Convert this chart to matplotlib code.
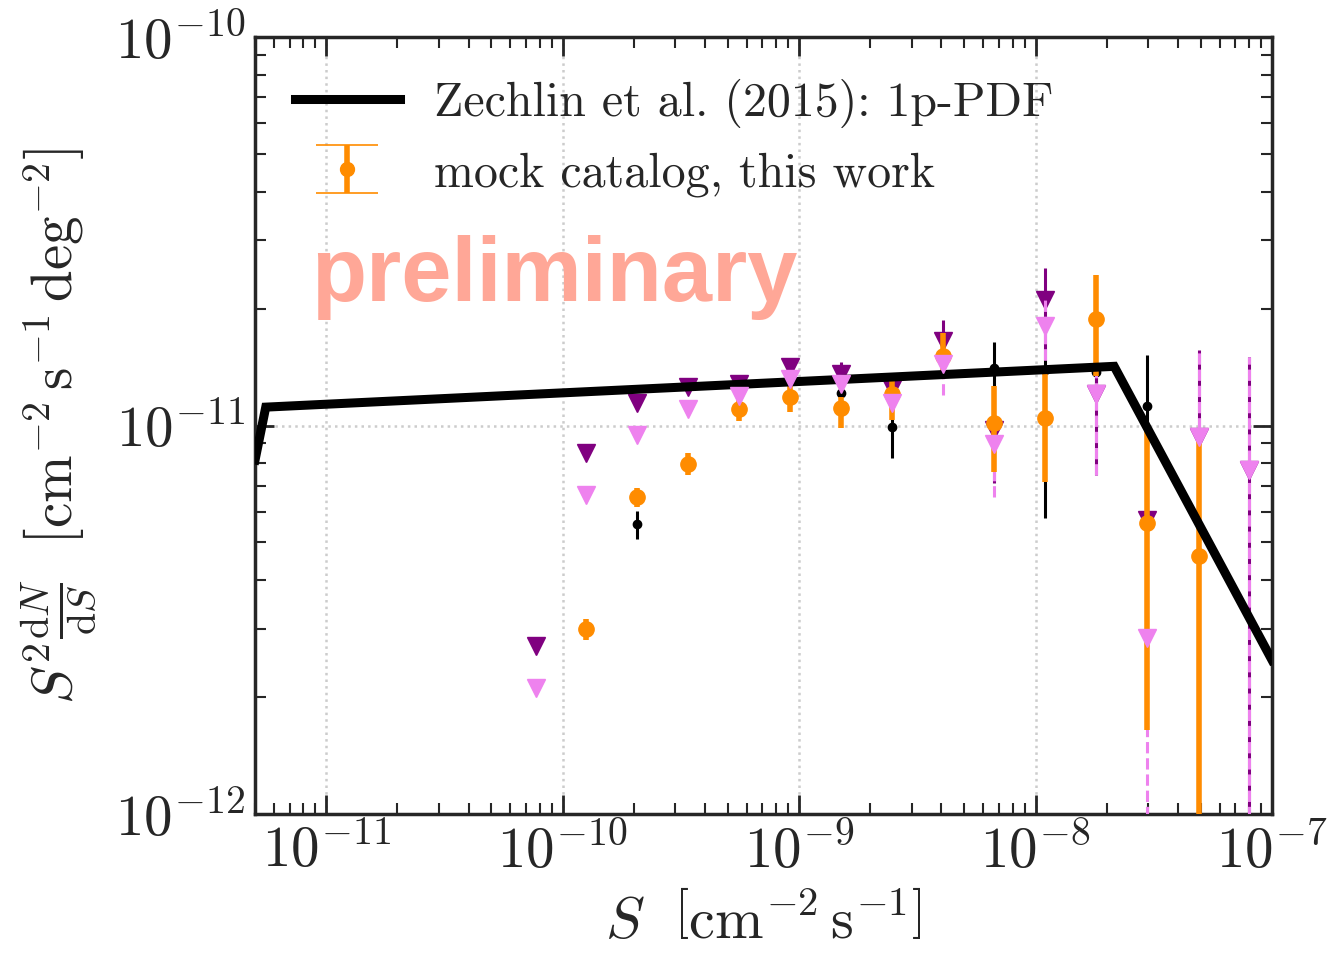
import numpy as np
import matplotlib.pyplot as plt
from matplotlib.ticker import FuncFormatter, LogLocator, NullFormatter

plt.rcParams['mathtext.fontset'] = 'cm'
plt.rcParams['font.family'] = 'serif'
plt.rcParams['font.serif'] = ['cmr10', 'DejaVu Serif']
plt.rcParams['axes.unicode_minus'] = False
plt.rcParams['axes.formatter.use_mathtext'] = True

INK = '#262626'

# flux bin centres [cm^-2 s^-1]
S_bins = np.array([7.7e-11, 1.26e-10, 2.07e-10, 3.38e-10, 5.56e-10, 9.16e-10,
                   1.51e-9, 2.48e-9, 4.05e-9, 6.66e-9, 1.10e-8, 1.81e-8,
                   2.97e-8, 4.90e-8, 7.98e-8])

# Zechlin et al. (2015) broken power law, S^2 dN/dS [cm^-2 s^-1 deg^-2]
model_S = np.array([5.0e-12, 5.55e-12, 2.15e-8, 1.0e-7])
model_val = np.array([8.15e-12, 1.115e-11, 1.42e-11, 2.49e-12])

# mock catalog (orange), in units of 1e-12
mock_idx = np.arange(1, 14)
mock_val = np.array([2.99, 6.55, 7.96, 11.03, 11.84, 11.09, 12.05, 15.09,
                     10.15, 10.45, 18.79, 5.61, 4.61])
mock_lo = np.array([2.81, 6.17, 7.46, 10.27, 10.83, 9.85, 10.33, 13.73,
                    7.59, 7.16, 13.41, 1.645, 0.5])
mock_hi = np.array([3.18, 6.90, 8.50, 11.77, 12.86, 11.84, 13.65, 17.30,
                    12.64, 13.65, 24.4, 9.68, 9.34])

# detected sources (black)
det_idx = np.array([2, 6, 7, 9, 10, 11, 12])
det_val = np.array([5.58, 12.13, 9.91, 14.06, 13.90, 13.73, 11.22])
det_lo = np.array([5.10, 11.63, 8.25, 8.25, 5.78, 11.98, 9.0])
det_hi = np.array([6.02, 12.71, 11.63, 16.40, 14.74, 15.64, 15.18])

# upper limits, purple
ul1_val = np.array([2.71, 8.50, 11.43, 12.56, 12.79, 14.14, 13.57, 12.42,
                    16.50, 9.73, 21.04, 12.05, 5.70, 9.34, 7.68])
ul1_lo = np.array([2.71, 8.50, 11.43, 12.56, 12.79, 14.14, 13.57, 12.42,
                   16.50, 7.11, 14.74, 7.46, 5.70, 0.5, 0.5])
ul1_hi = np.array([2.71, 8.50, 11.43, 12.56, 12.79, 14.91, 14.56, 12.42,
                   18.69, 9.73, 25.43, 13.73, 5.70, 15.64, 15.00])

# upper limits, violet
ul2_val = np.array([2.11, 6.62, 9.45, 11.03, 11.91, 13.17, 12.79, 11.43,
                    14.39, 8.96, 18.04, 12.05, 2.84, 9.34, 7.68])
ul2_lo = np.array([2.11, 6.62, 9.45, 11.03, 11.91, 13.17, 12.79, 11.43,
                   11.98, 6.55, 14.74, 7.46, 0.5, 0.5, 0.5])
ul2_hi = np.array([2.11, 6.62, 9.45, 11.03, 11.91, 13.17, 12.79, 11.43,
                   14.39, 8.96, 21.04, 13.73, 9.68, 15.64, 15.00])

unit = 1e-12


def err(val, lo, hi):
    return [(val - lo) * unit, (hi - val) * unit]


fig = plt.figure(figsize=(13.36, 9.63), dpi=100)
ax = fig.add_axes([0.1909, 0.1547, 0.7612, 0.8069])
ax.set_xscale('log')
ax.set_yscale('log')

ax.errorbar(S_bins[det_idx], det_val * unit, yerr=err(det_val, det_lo, det_hi),
            fmt='o', color='black', ms=6, elinewidth=2.2, capsize=0, zorder=2)

ax.errorbar(S_bins, ul1_val * unit, yerr=err(ul1_val, ul1_lo, ul1_hi),
            fmt='v', color='purple', ms=13, elinewidth=2.2, capsize=0, zorder=3)

# violet bars sit under the orange ones, violet markers on top of everything
ul2 = ax.errorbar(S_bins, ul2_val * unit, yerr=err(ul2_val, ul2_lo, ul2_hi),
                  fmt='v', color='violet', ms=13, elinewidth=2.2, capsize=0, zorder=3.5)
ul2[2][0].set_linestyle('--')
ul2[0].set_zorder(6)

ax.errorbar(S_bins[mock_idx], mock_val * unit, yerr=err(mock_val, mock_lo, mock_hi),
            fmt='o', color='darkorange', ms=11, elinewidth=4, capsize=0, zorder=4)

model, = ax.plot(model_S, model_val, color='black', lw=6.5, zorder=5,
                 solid_joinstyle='miter')

# legend entry for the mock catalog with caps
proxy = ax.errorbar([np.nan], [np.nan], yerr=[[np.nan], [np.nan]], fmt='o',
                    color='darkorange', ms=10, elinewidth=4, capsize=22, capthick=1.2)

ax.set_xlim(5e-12, 1e-7)
ax.set_ylim(1e-12, 1e-10)

ax.text(0.055, 0.66, 'preliminary', transform=ax.transAxes, fontsize=65,
        fontweight='bold', family='Liberation Sans', color='#FFA797', zorder=1)

leg = ax.legend([model, proxy], ['Zechlin et al. (2015): 1p-PDF', 'mock catalog, this work'],
                loc='upper left', bbox_to_anchor=(0.02, 0.971), frameon=False,
                fontsize=34.5, handlelength=2.2, handletextpad=0.7, labelspacing=0.5,
                borderaxespad=0.0)
for t in leg.get_texts():
    t.set_color(INK)

ax.xaxis.set_major_locator(LogLocator(base=10, numticks=20))
ax.xaxis.set_minor_locator(LogLocator(base=10, subs=np.arange(2, 10), numticks=20))
ax.yaxis.set_major_locator(LogLocator(base=10, numticks=20))
ax.yaxis.set_minor_locator(LogLocator(base=10, subs=np.arange(2, 10), numticks=20))
fmt = FuncFormatter(lambda v, p: r'$10^{%d}$' % int(round(np.log10(v))))
ax.xaxis.set_major_formatter(fmt)
ax.yaxis.set_major_formatter(fmt)
ax.xaxis.set_minor_formatter(NullFormatter())
ax.yaxis.set_minor_formatter(NullFormatter())

ax.tick_params(which='both', direction='in', top=True, right=True, colors=INK)
ax.tick_params(which='major', length=14, width=2, labelsize=41, pad=7)
ax.tick_params(which='minor', length=8, width=1.5)
for sp in ax.spines.values():
    sp.set_linewidth(2.5)
    sp.set_color(INK)

ax.grid(True, which='major', ls=':', color='#cccccc', lw=1.8, zorder=0)
ax.set_axisbelow(True)

ax.set_xlabel(r'$S\ \ \left[\mathrm{cm}^{-2}\,\mathrm{s}^{-1}\right]$', fontsize=42,
              color=INK, labelpad=10)
ax.set_ylabel(r'$S^2\frac{\mathrm{d}N}{\mathrm{d}S}\ \ \left[\mathrm{cm}^{-2}\,\mathrm{s}^{-1}\,\mathrm{deg}^{-2}\right]$',
              fontsize=41, color=INK, labelpad=12)

fig.savefig('out.png', dpi=100)
